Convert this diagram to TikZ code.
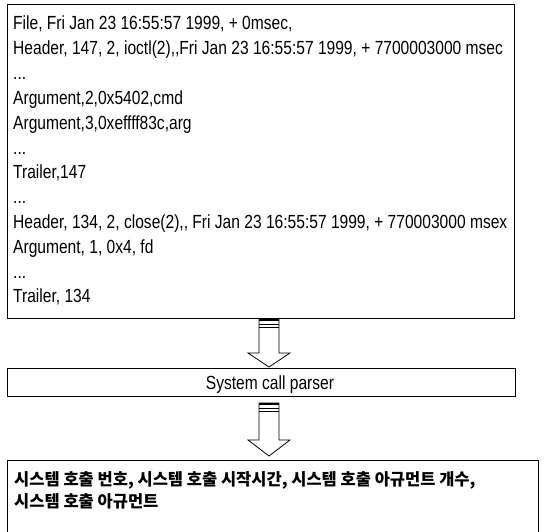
\documentclass[tikz,border=0pt]{standalone}
\usepackage{fontspec}
\setmainfont{Liberation Sans}[FakeStretch=0.82]
\newfontfamily\krfont{Noto Sans CJK KR}
\newcommand\logdots{...}
\tikzset{
  box/.style={draw, line width=0.8pt, inner sep=0pt, anchor=north west},
  logline/.style={anchor=base west, inner sep=0pt, font=\fontsize{19}{25}\selectfont},
  hollow/.style={draw, line width=0.8pt, fill=white}
}

\begin{document}
\begin{tikzpicture}[x=1pt, y=-1pt]
    \clip (0,0) rectangle (546,532);
    \useasboundingbox (0,0) rectangle (546,532);

    % 입력 로그 상자
    \node[box, minimum width=507pt, minimum height=314pt] (log) at (7,4) {};
    \foreach \line [count=\i from 0] in {%
        {File, Fri Jan 23 16:55:57 1999, + 0msec,},
        {Header, 147, 2, ioctl(2),{},Fri Jan 23 16:55:57 1999, + 7700003000 msec},
        {\logdots},
        {Argument,2,0x5402,cmd},
        {Argument,3,0xeffff83c,arg},
        {\logdots},
        {Trailer,147},
        {\logdots},
        {Header, 134, 2, close(2),{}, Fri Jan 23 16:55:57 1999, + 770003000 msex},
        {Argument, 1, 0x4, fd},
        {\logdots},
        {Trailer, 134}}
        \node[logline] (line\i) at (13,30+24.8*\i) {\line};

    % 파서
    \node[box, minimum width=508pt, minimum height=28pt] (parser) at (7,368) {};
    \node[logline, anchor=base] (parsertext) at (270,389) {System call parser};

    % 결과 상자
    \node[box, minimum width=531pt, minimum height=76pt] (result) at (7,460) {};
    \node[anchor=base west, inner sep=0pt, align=left, font=\krfont\bfseries\fontsize{16.5}{22}\selectfont] (resulttext) at (14,507) {%
        시스템 호출 번호, 시스템 호출 시작시간, 시스템 호출 아규먼트 개수,\\
        시스템 호출 아규먼트};

    % 화살표 (shaft top / head base / tip)
    \def\ax{269}
    \foreach \yt/\yh/\yb in {319/353/367, 403/440/456} {
        \draw[hollow] (\ax-10,\yt) -- (\ax-10,\yh) -- (\ax-21,\yh) -- (\ax,\yb)
            -- (\ax+21,\yh) -- (\ax+10,\yh) -- (\ax+10,\yt) -- cycle;
        \draw[line width=1.6pt] (\ax-10,\yt+1) -- (\ax+10,\yt+1);
        \draw[line width=0.8pt] (\ax-10,\yt+5) -- (\ax+10,\yt+5);
        \draw[line width=0.6pt] (\ax-10,\yt+8) -- (\ax+10,\yt+8);
    }
\end{tikzpicture}
\end{document}
